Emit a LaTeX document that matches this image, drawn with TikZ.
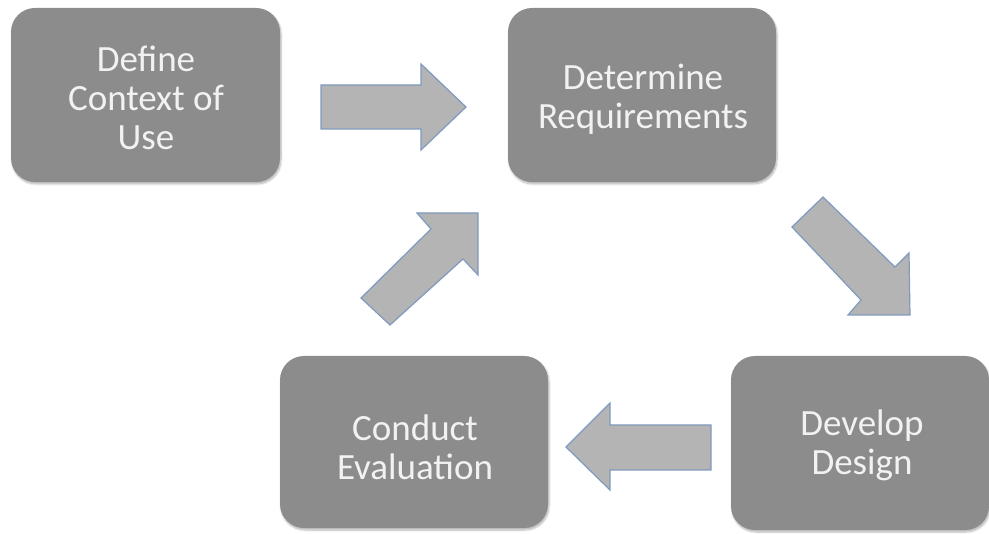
\documentclass[tikz,border=0pt]{standalone}
\usepackage{fontspec}
\setmainfont{Carlito}
\usetikzlibrary{shadows.blur}
\definecolor{boxgray}{HTML}{8C8C8C}
\definecolor{arrowfill}{HTML}{B4B4B4}
\definecolor{arrowline}{HTML}{7F99BF}
\begin{document}
\begin{tikzpicture}[x=1pt,y=-1pt,
  stepbox/.style={rectangle, rounded corners=24pt, fill=boxgray, draw=none,
    blur shadow={shadow xshift=1pt, shadow yshift=-2pt, shadow blur steps=6, shadow opacity=30}},
  steptext/.style={align=center, text=white!95!black, inner sep=0pt,
    font=\fontsize{37}{39}\selectfont},
  blockarrow/.style={fill=arrowfill, draw=arrowline, line width=1.2pt, line join=miter}]
\useasboundingbox (0,0) rectangle (989,534);
% boxes
\path[stepbox] (11,8) rectangle (280,182);
\node[steptext] (ctx) at (146,98) {Define\\Context of\\Use};
\path[stepbox] (508,8) rectangle (776,182);
\node[steptext] (req) at (643,99) {Determine\\Requirements};
\path[stepbox] (731,356) rectangle (989,530);
\node[steptext] (des) at (862,445) {Develop\\Design};
\path[stepbox] (280,356) rectangle (548,528);
\node[steptext] (eva) at (415,447) {Conduct\\Evaluation};
% block arrows
\coordinate (a1) at (466,107);
\draw[blockarrow] (321,85) -- (421,85) -- (421,64) -- (a1) -- (421,150) -- (421,129) -- (321,129) -- cycle;
\coordinate (a2) at (910,315);
\draw[blockarrow] (823,197) -- (895,267) -- (909,253) -- (a2) -- (848,315) -- (861,300) -- (792,227) -- cycle;
\coordinate (a3) at (566,447);
\draw[blockarrow] (711,425) -- (610,425) -- (610,403) -- (a3) -- (610,490) -- (610,470) -- (711,470) -- cycle;
\coordinate (a4) at (478,213);
\draw[blockarrow] (390,325) -- (463,259) -- (478,275) -- (a4) -- (417,213) -- (431,229) -- (361,298) -- cycle;
\end{tikzpicture}
\end{document}
